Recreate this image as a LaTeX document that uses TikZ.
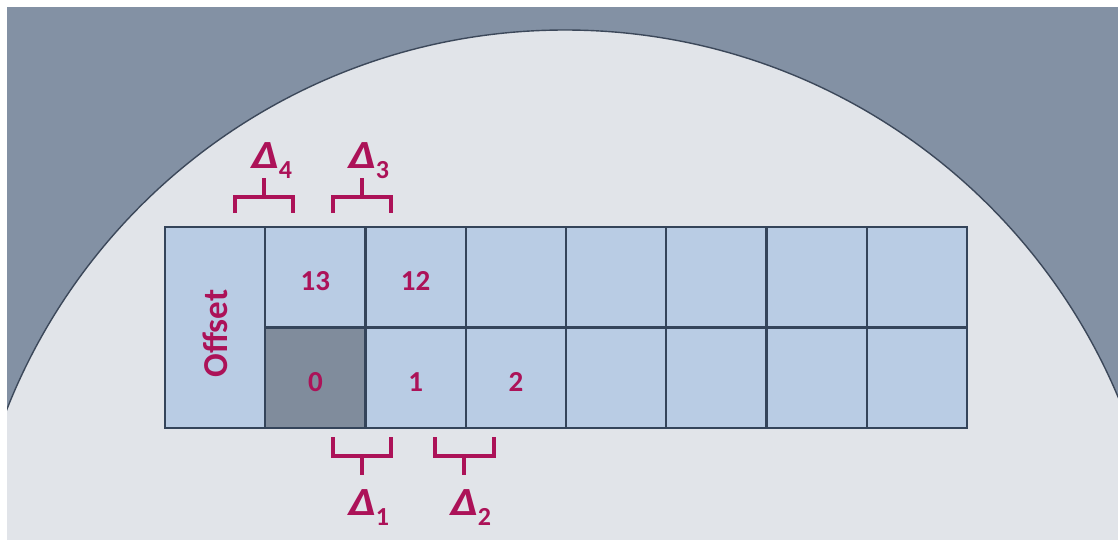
\documentclass[tikz,border=0pt]{standalone}
\usepackage{fontspec}
\usepackage{graphicx}
\setmainfont{Carlito}
\definecolor{bgslate}{RGB}{131,145,164}
\definecolor{disc}{RGB}{225,228,233}
\definecolor{discline}{RGB}{60,72,90}
\definecolor{cellblue}{RGB}{185,204,228}
\definecolor{celldark}{RGB}{128,140,156}
\definecolor{gridline}{RGB}{52,68,90}
\definecolor{mag}{RGB}{172,18,88}
\newcommand{\dlab}[1]{\scalebox{1.2}[1]{\bfseries\itshape\fontsize{40}{42}\selectfont Δ}\raisebox{-10pt}{\bfseries\upshape\fontsize{26}{28}\selectfont #1}}
\tikzset{
  cell/.style={draw=gridline, line width=2.2pt, fill=cellblue, minimum width=100.25pt, minimum height=100.5pt, inner sep=0pt, outer sep=0pt},
  darkcell/.style={cell, fill=celldark},
  celltext/.style={text=mag, font=\bfseries\fontsize{29}{31}\selectfont},
  brk/.style={draw=mag, line width=3.6pt, line cap=butt, line join=miter},
  dlabel/.style={text=mag, inner sep=0pt, anchor=base west},
}
\begin{document}
\begin{tikzpicture}[x=1pt,y=-1pt]
\useasboundingbox (0,0) rectangle (1118,539);
\fill[white] (0,0) rectangle (1118,539);
\fill[bgslate] (7,7) rectangle (1118,539);
\begin{scope}
  \clip (7,7) rectangle (1118,539);
  \fill[disc] (565,630) circle[radius=600];
  \draw[discline, line width=1.4pt] (565,630) circle[radius=600];
\end{scope}
% table
\node[cell, minimum height=201pt, anchor=north west] (off) at (165,227) {};
\node[rotate=90, text=mag, font=\bfseries\fontsize{35}{37}\selectfont] (offt) at ([shift={(0,6)}]off.center) {Offset};
\foreach \i in {1,...,7}{
  \node[cell, anchor=north west] (t\i) at ({165+100.25*\i},227) {};
  \node[cell, anchor=north west] (b\i) at ({165+100.25*\i},327.5) {};
}
\node[darkcell, anchor=north west] (b1) at (265.25,327.5) {};
\node[celltext] (n13) at ([shift={(0,4)}]t1.center) {13};
\node[celltext] (n12) at ([shift={(0,4)}]t2.center) {12};
\node[celltext] (n0) at ([shift={(0,4)}]b1.center) {0};
\node[celltext] (n1) at ([shift={(0,4)}]b2.center) {1};
\node[celltext] (n2) at ([shift={(0,4)}]b3.center) {2};
% top brackets
\draw[brk] (235,213) -- (235,197) -- (293,197) -- (293,213);
\draw[brk] (264,197) -- (264,178);
\draw[brk] (333,213) -- (333,197) -- (391,197) -- (391,213);
\draw[brk] (362,197) -- (362,178);
\node[dlabel] (d4) at (251,168) {\dlab{4}};
\node[dlabel] (d3) at (348,168) {\dlab{3}};
% bottom brackets
\draw[brk] (333,437) -- (333,456) -- (391,456) -- (391,437);
\draw[brk] (362,456) -- (362,475);
\draw[brk] (435,437) -- (435,456) -- (494,456) -- (494,437);
\draw[brk] (464,456) -- (464,475);
\node[dlabel] (d1) at (348,515) {\dlab{1}};
\node[dlabel] (d2) at (450,515) {\dlab{2}};
\end{tikzpicture}
\end{document}
